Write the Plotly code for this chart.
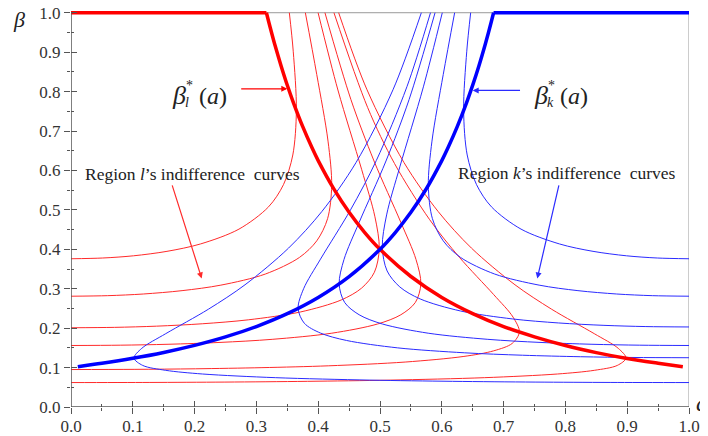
import plotly.graph_objects as go

# ---- thick equilibrium curves ----
beta_l_a = [0.0, 0.3162, 0.32, 0.325, 0.33, 0.34, 0.35, 0.36, 0.375, 0.39, 0.40, 0.425, 0.45, 0.475,
            0.50, 0.55, 0.60, 0.65, 0.70, 0.75, 0.80, 0.85, 0.90, 0.95, 0.99]
beta_l_b = [1.0, 1.0, 0.9766, 0.9467, 0.918, 0.8651, 0.816, 0.7716, 0.711, 0.6575, 0.625, 0.554, 0.494, 0.4432,
            0.400, 0.331, 0.278, 0.237, 0.204, 0.178, 0.156, 0.138, 0.123, 0.111, 0.102]
beta_k_a = [0.011, 0.05, 0.10, 0.15, 0.20, 0.25, 0.30, 0.35, 0.40, 0.45, 0.50, 0.525, 0.55, 0.575,
            0.60, 0.61, 0.625, 0.64, 0.65, 0.66, 0.67, 0.675, 0.68, 0.6838, 1.0]
beta_k_b = [0.1022, 0.1108, 0.1235, 0.1384, 0.1563, 0.1778, 0.2041, 0.2367, 0.2778, 0.3306, 0.400, 0.4432, 0.4938, 0.5536,
            0.625, 0.6575, 0.7111, 0.7716, 0.8163, 0.8651, 0.9183, 0.9467, 0.9766, 1.0, 1.0]

# ---- region l indifference curves (red) ----
r1_a = [0.0, 0.0513, 0.1011, 0.1553, 0.2097, 0.2718, 0.3196, 0.3438, 0.3589, 0.3647, 0.3596, 0.3533]
r1_b = [0.376, 0.3779, 0.3835, 0.3948, 0.4136, 0.4512, 0.5076, 0.564, 0.6392, 0.752, 0.9024, 1.0]
r2_a = [0.0, 0.0594, 0.1170, 0.1797, 0.2425, 0.3144, 0.3697, 0.3977, 0.4152, 0.4218, 0.4159, 0.3977, 0.3792]
r2_b = [0.281, 0.2824, 0.2866, 0.2951, 0.3091, 0.3372, 0.3794, 0.4215, 0.4777, 0.562, 0.6744, 0.843, 1.0]
r3_a = [0.0, 0.0702, 0.1383, 0.2124, 0.2868, 0.3718, 0.4371, 0.4702, 0.4909, 0.4988, 0.4918, 0.4702, 0.4319, 0.3998]
r3_b = [0.201, 0.2020, 0.2050, 0.2111, 0.2211, 0.2412, 0.2714, 0.3015, 0.3417, 0.402, 0.4824, 0.603, 0.804, 1.0]
r4_a = [0.0, 0.0797, 0.1570, 0.2411, 0.3255, 0.4220, 0.4962, 0.5338, 0.5572, 0.5661, 0.5582, 0.5338, 0.4903, 0.4529, 0.4109]
r4_b = [0.156, 0.1568, 0.1591, 0.1638, 0.1716, 0.1872, 0.2106, 0.234, 0.2652, 0.312, 0.3744, 0.468, 0.624, 0.78, 1.0]
r5_a = [0.0, 0.1021, 0.2012, 0.3090, 0.4171, 0.5407, 0.6358, 0.6840, 0.7141, 0.7255, 0.7153, 0.6840, 0.6283, 0.5804, 0.5235, 0.4799, 0.4255]
r5_b = [0.095, 0.0955, 0.0969, 0.0998, 0.1045, 0.114, 0.1283, 0.1425, 0.1615, 0.19, 0.228, 0.285, 0.38, 0.475, 0.6175, 0.76, 1.0]
r6_a = [0.0, 0.1264, 0.2490, 0.3825, 0.5163, 0.6694, 0.7871, 0.8467, 0.8839, 0.8980, 0.8855, 0.8467, 0.7777, 0.7184, 0.6480, 0.5940, 0.5388, 0.4786, 0.4331]
r6_b = [0.062, 0.0623, 0.0632, 0.0651, 0.0682, 0.0744, 0.0837, 0.093, 0.1054, 0.124, 0.1488, 0.186, 0.248, 0.31, 0.403, 0.496, 0.62, 0.806, 1.0]

# ---- region k indifference curves (blue) ----
b1_a = [1.0, 0.9487, 0.8989, 0.8447, 0.7903, 0.7282, 0.6804, 0.6562, 0.6411, 0.6353, 0.6404, 0.6467]
b1_b = [0.376, 0.3779, 0.3835, 0.3948, 0.4136, 0.4512, 0.5076, 0.564, 0.6392, 0.752, 0.9024, 1.0]
b2_a = [1.0, 0.9406, 0.8830, 0.8203, 0.7575, 0.6856, 0.6303, 0.6023, 0.5848, 0.5782, 0.5841, 0.6023, 0.6208]
b2_b = [0.281, 0.2824, 0.2866, 0.2951, 0.3091, 0.3372, 0.3794, 0.4215, 0.4777, 0.562, 0.6744, 0.843, 1.0]
b3_a = [1.0, 0.9302, 0.8624, 0.7886, 0.7147, 0.6301, 0.5650, 0.5321, 0.5115, 0.5037, 0.5107, 0.5321, 0.5702, 0.6008]
b3_b = [0.203, 0.2040, 0.2071, 0.2132, 0.2233, 0.2436, 0.2741, 0.3045, 0.3451, 0.406, 0.4872, 0.609, 0.812, 1.0]
b4_a = [1.0, 0.9203, 0.8430, 0.7589, 0.6745, 0.5780, 0.5038, 0.4662, 0.4428, 0.4339, 0.4418, 0.4662, 0.5097, 0.5471, 0.5891]
b4_b = [0.156, 0.1568, 0.1591, 0.1638, 0.1716, 0.1872, 0.2106, 0.234, 0.2652, 0.312, 0.3744, 0.468, 0.624, 0.78, 1.0]
b5_a = [1.0, 0.9110, 0.8246, 0.7306, 0.6364, 0.5286, 0.4457, 0.4037, 0.3775, 0.3675, 0.3764, 0.4037, 0.4523, 0.4940, 0.5436, 0.5817]
b5_b = [0.125, 0.1256, 0.1275, 0.1313, 0.1375, 0.15, 0.1688, 0.1875, 0.2125, 0.25, 0.3, 0.375, 0.5, 0.625, 0.8125, 1.0]
b6_a = [1.0, 0.8736, 0.7510, 0.6175, 0.4837, 0.3306, 0.2129, 0.1533, 0.1161, 0.1020, 0.1145, 0.1533, 0.2223, 0.2816, 0.3520, 0.4060, 0.4612, 0.5214, 0.5669]
b6_b = [0.062, 0.0623, 0.0632, 0.0651, 0.0682, 0.0744, 0.0837, 0.093, 0.1054, 0.124, 0.1488, 0.186, 0.248, 0.31, 0.403, 0.496, 0.62, 0.806, 1.0]

red_curves = [(r1_a, r1_b), (r2_a, r2_b), (r3_a, r3_b), (r4_a, r4_b), (r5_a, r5_b), (r6_a, r6_b)]
blue_curves = [(b1_a, b1_b), (b2_a, b2_b), (b3_a, b3_b), (b4_a, b4_b), (b5_a, b5_b), (b6_a, b6_b)]

RED_THIN = "#ff2a2a"
BLUE_THIN = "#2b2bff"
AX = "#555555"
FONT = "Times New Roman, Liberation Serif, serif"

fig = go.Figure()
for xs, ys in red_curves:
    fig.add_trace(go.Scatter(x=xs, y=ys, mode="lines", line=dict(color=RED_THIN, width=1, shape="spline", smoothing=0.9),
                             showlegend=False, hoverinfo="skip"))
for xs, ys in blue_curves:
    fig.add_trace(go.Scatter(x=xs, y=ys, mode="lines", line=dict(color=BLUE_THIN, width=1, shape="spline", smoothing=0.9),
                             showlegend=False, hoverinfo="skip"))
# thick curves: flat part (linear) + curved part (spline)
fig.add_trace(go.Scatter(x=beta_l_a[:2], y=beta_l_b[:2], mode="lines", line=dict(color="#ff0000", width=3.5),
                         showlegend=False, hoverinfo="skip"))
fig.add_trace(go.Scatter(x=beta_l_a[1:], y=beta_l_b[1:], mode="lines",
                         line=dict(color="#ff0000", width=3.5, shape="spline", smoothing=0.8),
                         showlegend=False, hoverinfo="skip"))
fig.add_trace(go.Scatter(x=beta_k_a[:-1], y=beta_k_b[:-1], mode="lines",
                         line=dict(color="#0000ff", width=3.5, shape="spline", smoothing=0.8),
                         showlegend=False, hoverinfo="skip"))
fig.add_trace(go.Scatter(x=beta_k_a[-2:], y=beta_k_b[-2:], mode="lines", line=dict(color="#0000ff", width=3.5),
                         showlegend=False, hoverinfo="skip"))
# dummy trace to activate the overlay axes (other halves of the crossing ticks)
fig.add_trace(go.Scatter(x=[None], y=[None], xaxis="x2", yaxis="y2", showlegend=False, hoverinfo="skip"))

YR = [0, 1.012]
tick_common = dict(tick0=0, dtick=0.1, showgrid=False, zeroline=False, showline=False,
                   tickcolor=AX, tickwidth=1.3, automargin=False)
minor_out = dict(tick0=0, dtick=0.05, ticks="outside", ticklen=3, tickcolor=AX, tickwidth=1.3)
minor_in = dict(tick0=0, dtick=0.05, ticks="inside", ticklen=3, tickcolor=AX, tickwidth=1.3)
# the page body adds an 8px offset, so the figure is 700x428 to fill the 708x436 window
fig.update_layout(
    template="none",
    width=700, height=428,
    margin=dict(l=63, r=19, t=0, b=29, autoexpand=False),
    paper_bgcolor="white", plot_bgcolor="white",
    hovermode=False,
    xaxis=dict(range=[0, 1], ticks="inside", ticklen=6, tickformat=".1f", ticklabelstandoff=7,
               tickfont=dict(family=FONT, size=17, color="#333"), minor=minor_in, **tick_common),
    yaxis=dict(range=YR, ticks="outside", ticklen=6, tickformat=".1f", ticklabeloverflow="allow",
               tickfont=dict(family=FONT, size=17, color="#333"), minor=minor_out, **tick_common),
    xaxis2=dict(range=[0, 1], overlaying="x", anchor="y2", side="bottom", ticks="outside", ticklen=6,
                showticklabels=False, minor=minor_out, **tick_common),
    yaxis2=dict(range=YR, overlaying="y", anchor="x2", side="left", ticks="inside", ticklen=6,
                showticklabels=False, minor=minor_in, **tick_common),
)

shapes = [
    dict(type="line", xref="x", yref="y", x0=0, x1=1, y0=1, y1=1, line=dict(color="#999999", width=1), layer="below"),
    dict(type="line", xref="x", yref="y", x0=1, x1=1, y0=0, y1=1, line=dict(color="#999999", width=1), layer="below"),
    dict(type="line", xref="x", yref="y", x0=0, x1=0, y0=0, y1=1, line=dict(color=AX, width=1.5), layer="above"),
    dict(type="line", xref="x", yref="y", x0=0, x1=1, y0=0, y1=0, line=dict(color=AX, width=1.5), layer="above"),
]
fig.update_layout(shapes=shapes)

def txt(x, y, text, size, color="#222", xref="x", yref="y", xanchor="center"):
    return dict(x=x, y=y, xref=xref, yref=yref, text=text, showarrow=False, borderpad=0,
                font=dict(family=FONT, size=size, color=color), xanchor=xanchor, yanchor="middle")

def arrow(x0, y0, x1, y1, color):
    return dict(x=x1, y=y1, ax=x0, ay=y0, xref="x", yref="y", axref="x", ayref="y", text="",
                showarrow=True, arrowhead=2, arrowsize=1, arrowwidth=1.2, arrowcolor=color)

annotations = [
    # axis titles (paper coordinates: outside the data range)
    txt(-0.084, 0.972, "<i>β</i>", 22, "#222", "paper", "paper"),
    txt(1.0095, 0.011, "<i>a</i>", 24, "#222", "paper", "paper", "left"),
    # beta_l*(a)
    txt(0.1748, 0.790, "<i>β</i>", 26),
    txt(0.1885, 0.772, "<i>l</i>", 14),
    txt(0.1925, 0.815, "*", 14),
    txt(0.2300, 0.790, "(<i>a</i>)", 24),
    arrow(0.273, 0.807, 0.350, 0.807, "#ff0000"),
    # beta_k*(a)
    txt(0.760, 0.790, "<i>β</i>", 26),
    txt(0.776, 0.772, "<i>k</i>", 14),
    txt(0.778, 0.815, "*", 14),
    txt(0.8145, 0.790, "(<i>a</i>)", 24),
    arrow(0.729, 0.803, 0.650, 0.803, "#2b2bff"),
    # region labels
    txt(0.197, 0.592, "Region <i>l</i>’s indifference  curves", 17.5),
    arrow(0.163, 0.566, 0.2115, 0.326, "#ff2a2a"),
    txt(0.802, 0.594, "Region <i>k</i>’s indifference  curves", 17.5),
    arrow(0.790, 0.566, 0.7545, 0.326, "#2b2bff"),
]
fig.update_layout(annotations=annotations)

fig.write_html("out.html")
